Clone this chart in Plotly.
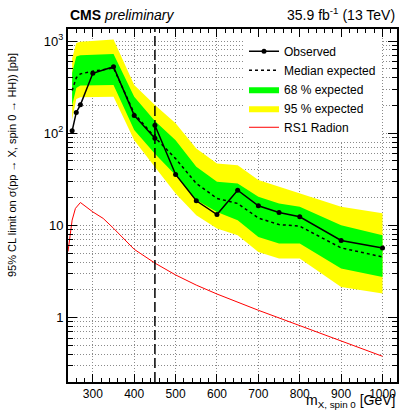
import plotly.graph_objects as go
import math

# ---------------- data ----------------
obs_mass = [250, 260, 270, 300, 350, 400, 450, 450, 500, 550, 600, 650, 700, 750, 800, 900, 1000]
obs_limit = [106, 168, 203, 446, 526, 156, 88, 122, 35.7, 18.5, 13.1, 24.1, 16.3, 13.8, 12.4, 6.86, 5.70]

exp_mass = [250, 260, 270, 300, 350, 400, 450, 500, 550, 600, 650, 700, 750, 800, 900, 1000]
exp_median = [290, 400, 440, 470, 510, 164, 90, 53, 28.5, 19.6, 17.3, 12.0, 10.2, 9.8, 5.7, 4.55]
exp_p1 = [450, 680, 700, 705, 722, 248, 136, 84, 43.2, 29.7, 28.5, 20.4, 17.3, 15.9, 10.05, 7.83]
exp_m1 = [200, 310, 330, 333, 333, 108, 60, 35, 18.8, 14.0, 11.4, 7.5, 6.36, 6.36, 3.4, 2.76]
exp_p2 = [650, 950, 980, 1000, 1040, 333, 202, 128, 68.4, 47, 45, 31, 26.2, 22.2, 15.9, 13.5]
exp_m2 = [140, 235, 245, 248, 248, 84, 43, 22.2, 12.9, 9.25, 7.83, 5.15, 4.37, 4.37, 2.15, 1.82]

radion_mass = [240, 245, 250, 258, 270, 300, 325, 350, 400, 450, 500, 550, 600, 700, 800, 900, 1000]
radion_xs = [5.2, 8.2, 11.4, 15.3, 17.7, 14.0, 11.9, 9.3, 5.5, 3.9, 2.9, 2.25, 1.8, 1.2, 0.82, 0.56, 0.38]

regime_boundary = 450

y_major = [1, 10, 100, 1000]
y_major_text = ["1", "10", "10<sup>2</sup>", "10<sup>3</sup>"]
x_major = [300, 400, 500, 600, 700, 800, 900, 1000]

FONT = "Liberation Sans, Arial, Helvetica, sans-serif"

fig = go.Figure()

fig.add_trace(go.Scatter(
    x=exp_mass + exp_mass[::-1], y=exp_p2 + exp_m2[::-1],
    fill="toself", fillcolor="#ffff00", line=dict(width=0, color="#ffff00"),
    mode="lines", name="95 % expected", legendrank=4, hoverinfo="skip"))
fig.add_trace(go.Scatter(
    x=exp_mass + exp_mass[::-1], y=exp_p1 + exp_m1[::-1],
    fill="toself", fillcolor="#00ff00", line=dict(width=0, color="#00ff00"),
    mode="lines", name="68 % expected", legendrank=3, hoverinfo="skip"))
fig.add_trace(go.Scatter(
    x=exp_mass, y=exp_median, mode="lines",
    line=dict(color="black", width=1.5, dash="3px,3px"),
    name="Median expected", legendrank=2))
fig.add_trace(go.Scatter(
    x=radion_mass, y=radion_xs, mode="lines",
    line=dict(color="#ff0000", width=1),
    name="RS1 Radion", legendrank=5))
fig.add_trace(go.Scatter(
    x=obs_mass, y=obs_limit, mode="lines+markers",
    line=dict(color="black", width=1.5),
    marker=dict(color="black", size=5),
    name="Observed", legendrank=1))

fig.add_shape(type="line", xref="x", yref="paper",
              x0=regime_boundary, x1=regime_boundary, y0=0, y1=1,
              line=dict(color="black", width=1.5, dash="10px,4px"), layer="above")

grid_col = "#8a8a8a"
fig.update_xaxes(
    range=[240, 1035], tickvals=x_major, ticks="inside", ticklen=8, tickwidth=1,
    tickcolor="black", showline=True, linecolor="black", linewidth=2, mirror="allticks",
    showgrid=True, gridcolor=grid_col, griddash="1px,2px", gridwidth=1,
    minor=dict(dtick=20, tick0=0, ticks="inside", ticklen=4, tickcolor="black", showgrid=False),
    tickfont=dict(family=FONT, size=12, color="black"), zeroline=False, layer="above traces")

y_minor = [k * 10 ** e for e in range(-1, 4) for k in range(2, 10)]
fig.update_yaxes(
    type="log", range=[math.log10(0.2), math.log10(1350)],
    tickvals=y_major, ticktext=y_major_text, ticks="inside", ticklen=9, tickwidth=1,
    tickcolor="black", showline=True, linecolor="black", linewidth=2, mirror="allticks",
    showgrid=True, gridcolor=grid_col, griddash="1px,2px", gridwidth=1,
    minor=dict(tickvals=y_minor, ticks="inside", ticklen=5, tickcolor="black",
               showgrid=True, gridcolor=grid_col, griddash="1px,2px", gridwidth=1),
    tickfont=dict(family=FONT, size=13, color="black"), zeroline=False, layer="above traces")

fig.update_layout(
    width=406, height=413,
    margin=dict(l=68, r=7, t=29, b=31),
    paper_bgcolor="white", plot_bgcolor="white",
    font=dict(family=FONT, color="black"),
    showlegend=True,
    legend=dict(x=0.535, y=0.978, xanchor="left", yanchor="top",
                bgcolor="white", borderwidth=0, font=dict(family=FONT, size=12),
                itemwidth=30, tracegroupgap=0, traceorder="normal"),
    annotations=[
        dict(text="<b>CMS</b> <i>preliminary</i>", xref="paper", yref="paper",
             x=0, y=1, xanchor="left", yanchor="bottom", yshift=4, showarrow=False,
             font=dict(family=FONT, size=14)),
        dict(text="35.9 fb<sup>-1</sup> (13 TeV)", xref="paper", yref="paper",
             x=1.0, y=1, xanchor="right", yanchor="bottom", yshift=4, showarrow=False,
             font=dict(family=FONT, size=14)),
        dict(text="m<sub>X, spin 0</sub> [GeV]", xref="paper", yref="paper",
             x=1.0, y=0, xanchor="right", yanchor="bottom", yshift=-30, showarrow=False,
             font=dict(family=FONT, size=14)),
        dict(text="95% CL limit on σ(pp → X, spin 0 → HH)) [pb]", xref="paper", yref="paper",
             x=0, y=1, xanchor="center", yanchor="top", xshift=-56, yshift=-22,
             textangle=-90, showarrow=False, font=dict(family=FONT, size=11)),
    ],
)

fig.write_html("out.html")
